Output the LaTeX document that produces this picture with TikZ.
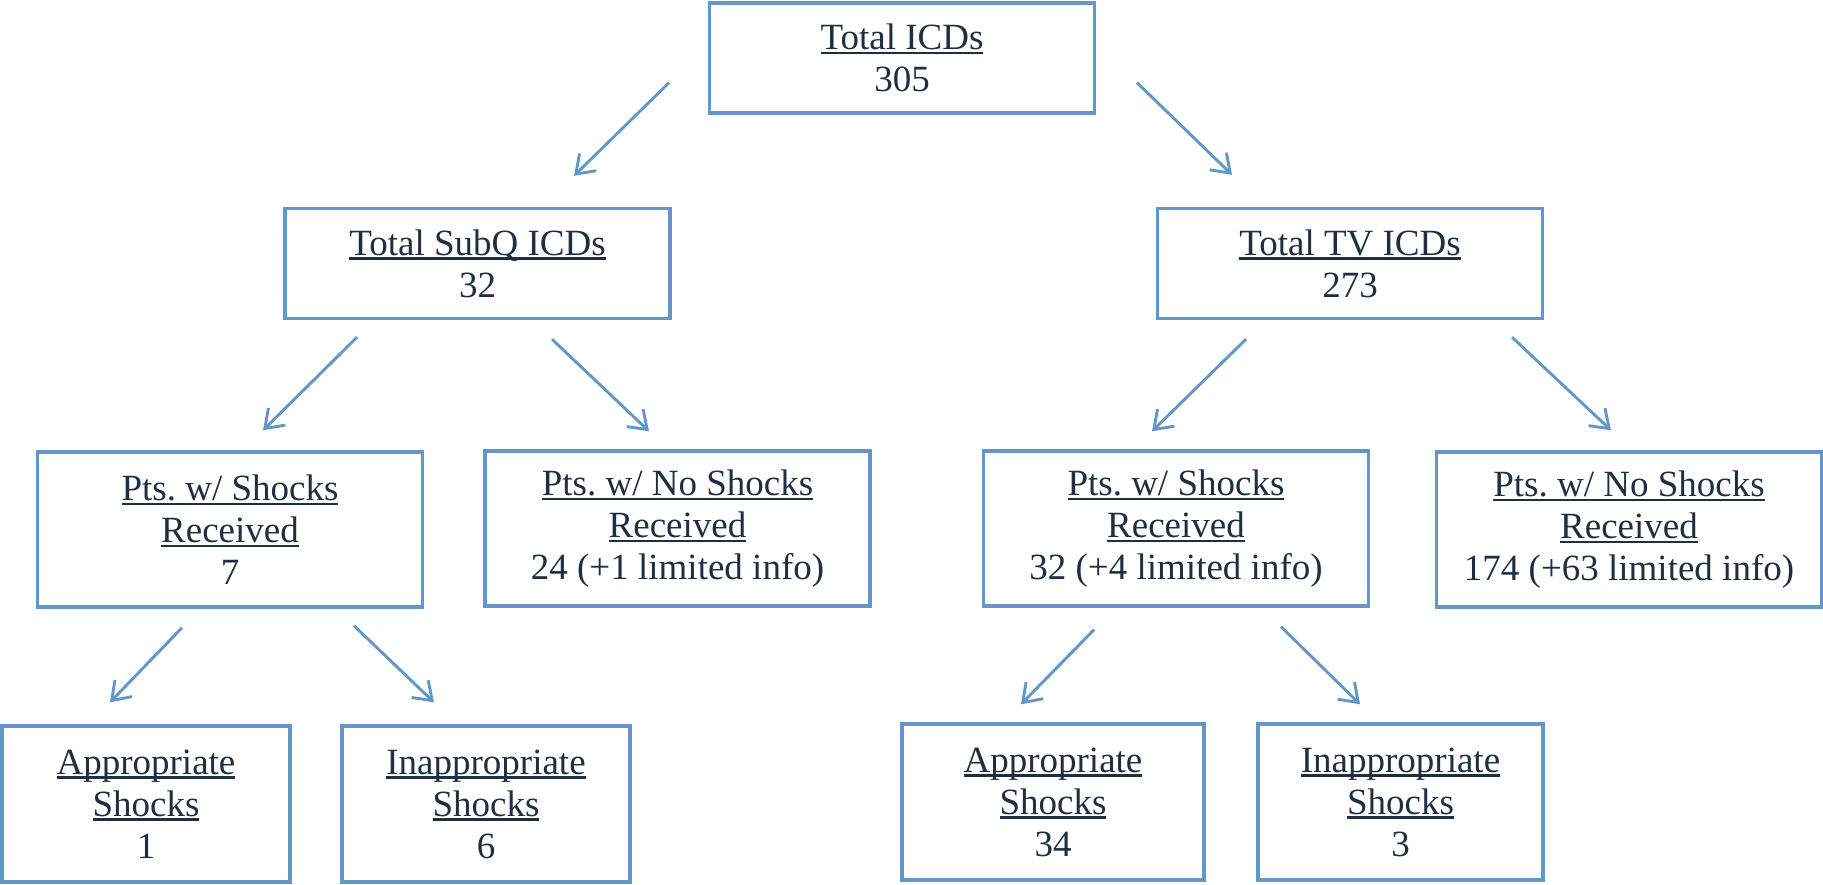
\documentclass[tikz,border=0pt]{standalone}
\usepackage{fontspec}
\setmainfont{Liberation Serif}
\usetikzlibrary{arrows.meta,positioning}

\definecolor{boxblue}{RGB}{99,150,201}
\definecolor{textnavy}{RGB}{31,46,66}
\newsavebox{\ulbox}
\newcommand{\uln}[1]{\sbox{\ulbox}{#1}\rlap{\rule[-2.4pt]{\wd\ulbox}{1.3pt}}\usebox{\ulbox}}
\frenchspacing

\tikzset{
  box/.style={draw=boxblue, line width=1.7pt, text=textnavy, align=center,
    minimum width=192.5pt, minimum height=55pt, inner sep=0pt,
    font=\fontsize{18.5pt}{21pt}\selectfont},
  tall/.style={minimum height=77.5pt},
  leaf/.style={minimum width=144pt, minimum height=78pt},
  link/.style={draw=boxblue, line width=1.45pt, -{Straight Barb[length=8.5pt,width=12pt]}}
}

\begin{document}
\begin{tikzpicture}[x=0.5pt, y=-0.5pt]
    \useasboundingbox (0,0) rectangle (1823,884);

    % ICD totals
    \node[box]          (total) at (902,58)      {\uln{Total ICDs}\\305};
    \node[box]          (subq)  at (477.5,263.5) {\uln{Total SubQ ICDs}\\32};
    \node[box]          (tv)    at (1350,263.5)  {\uln{Total TV ICDs}\\273};

    % patients with / without shocks
    \node[box,tall]     (subqyes) at (230,529.5)  {\uln{Pts. w/ Shocks}\\\uln{Received}\\7};
    \node[box,tall]     (subqno)  at (677.5,528.5) {\uln{Pts. w/ No Shocks}\\\uln{Received}\\24 (+1 limited info)};
    \node[box,tall]     (tvyes)   at (1176,528.5) {\uln{Pts. w/ Shocks}\\\uln{Received}\\32 (+4 limited info)};
    \node[box,tall]     (tvno)    at (1629,529.5) {\uln{Pts. w/ No Shocks}\\\uln{Received}\\174 (+63 limited info)};

    % kinds of shocks
    \node[box,leaf]     (subqapp)   at (146,804)    {\uln{Appropriate}\\\uln{Shocks}\\1};
    \node[box,leaf]     (subqinapp) at (486,804)    {\uln{Inappropriate}\\\uln{Shocks}\\6};
    \node[box,leaf,minimum width=151pt]   (tvapp)   at (1053,802)   {\uln{Appropriate}\\\uln{Shocks}\\34};
    \node[box,leaf,minimum width=142.5pt] (tvinapp) at (1400.5,802) {\uln{Inappropriate}\\\uln{Shocks}\\3};

    \draw[link] ([shift={(-233,-32)}]total.south) -- ([shift={(96.5,-31)}]subq.north);
    \draw[link] ([shift={(235,-32)}]total.south)  -- ([shift={(-118,-32)}]tv.north);
    \draw[link] ([shift={(-120.5,17)}]subq.south) -- ([shift={(33,-20)}]subqyes.north);
    \draw[link] ([shift={(74.5,19)}]subq.south)   -- ([shift={(-28.5,-18)}]subqno.north);
    \draw[link] ([shift={(-104,19)}]tv.south)     -- ([shift={(-24,-18)}]tvyes.north);
    \draw[link] ([shift={(162,17)}]tv.south)      -- ([shift={(-18,-20)}]tvno.north);
    \draw[link] ([shift={(-48,19)}]subqyes.south) -- ([shift={(-36,-22)}]subqapp.north);
    \draw[link] ([shift={(124,17)}]subqyes.south) -- ([shift={(-52,-22)}]subqinapp.north);
    \draw[link] ([shift={(-82,22)}]tvyes.south)   -- ([shift={(-32,-18)}]tvapp.north);
    \draw[link] ([shift={(105,19)}]tvyes.south)   -- ([shift={(-40.5,-18)}]tvinapp.north);
\end{tikzpicture}
\end{document}
